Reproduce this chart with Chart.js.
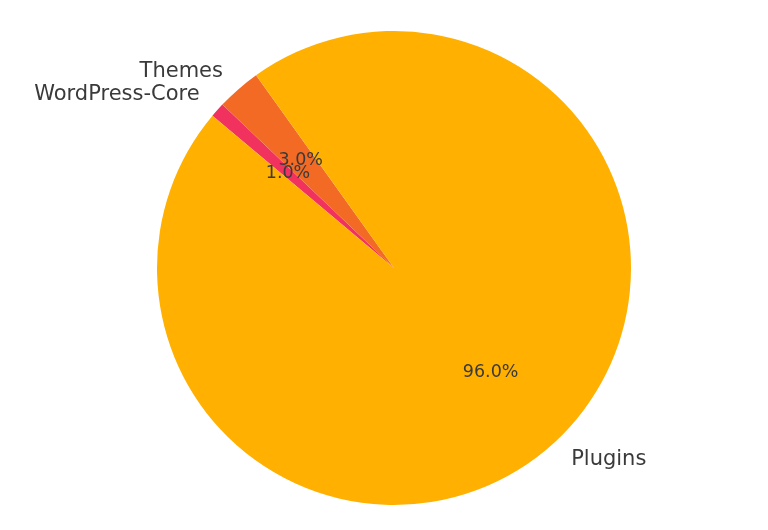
<!DOCTYPE html>
<html>
<head>
<meta charset="utf-8">
<script src="https://cdn.jsdelivr.net/npm/chart.js@4.4.0/dist/chart.umd.min.js"></script>
<style>
html,body{margin:0;padding:0;background:#fff;}
#wrap{width:768px;height:530px;position:relative;}
</style>
</head>
<body>
<div id="wrap"><canvas id="c" width="768" height="530"></canvas></div>
<script>
const categories = ['Plugins', 'Themes', 'WordPress-Core'];
const shares = [96.0, 3.0, 1.0];
const sliceColors = ['#FFB000', '#F36A24', '#F2325E'];

// matplotlib draws counter-clockwise; Chart.js clockwise -> reverse order
const revLabels = categories.slice().reverse();
const revData = shares.slice().reverse();
const revColors = sliceColors.slice().reverse();

const labelPlugin = {
  id: 'pieLabels',
  afterDatasetsDraw(chart) {
    const ctx = chart.ctx;
    const meta = chart.getDatasetMeta(0);
    const total = revData.reduce((a, b) => a + b, 0);
    ctx.save();
    ctx.fillStyle = '#3a3a3a';
    meta.data.forEach((arc, i) => {
      const mid = (arc.startAngle + arc.endAngle) / 2;
      const r = arc.outerRadius;
      const cx = arc.x, cy = arc.y;
      // percentage
      ctx.font = '17.5px "DejaVu Sans"';
      ctx.textAlign = 'center';
      ctx.textBaseline = 'middle';
      const pct = (revData[i] / total * 100).toFixed(1) + '%';
      ctx.fillText(pct, cx + Math.cos(mid) * r * 0.6, cy + Math.sin(mid) * r * 0.6);
      // label
      ctx.font = '21px "DejaVu Sans"';
      const lx = cx + Math.cos(mid) * r * 1.1;
      const ly = cy + Math.sin(mid) * r * 1.1;
      ctx.textAlign = Math.cos(mid) >= 0 ? 'left' : 'right';
      ctx.fillText(revLabels[i], lx, ly);
    });
    ctx.restore();
  }
};

new Chart(document.getElementById('c'), {
  type: 'pie',
  data: {
    labels: revLabels,
    datasets: [{
      data: revData,
      backgroundColor: revColors,
      borderWidth: 0
    }]
  },
  options: {
    responsive: false,
    animation: false,
    rotation: -50,
    layout: { padding: { top: 31, bottom: 25, left: 157, right: 137 } },
    plugins: {
      legend: { display: false },
      tooltip: { enabled: false }
    }
  },
  plugins: [labelPlugin]
});
</script>
</body>
</html>
